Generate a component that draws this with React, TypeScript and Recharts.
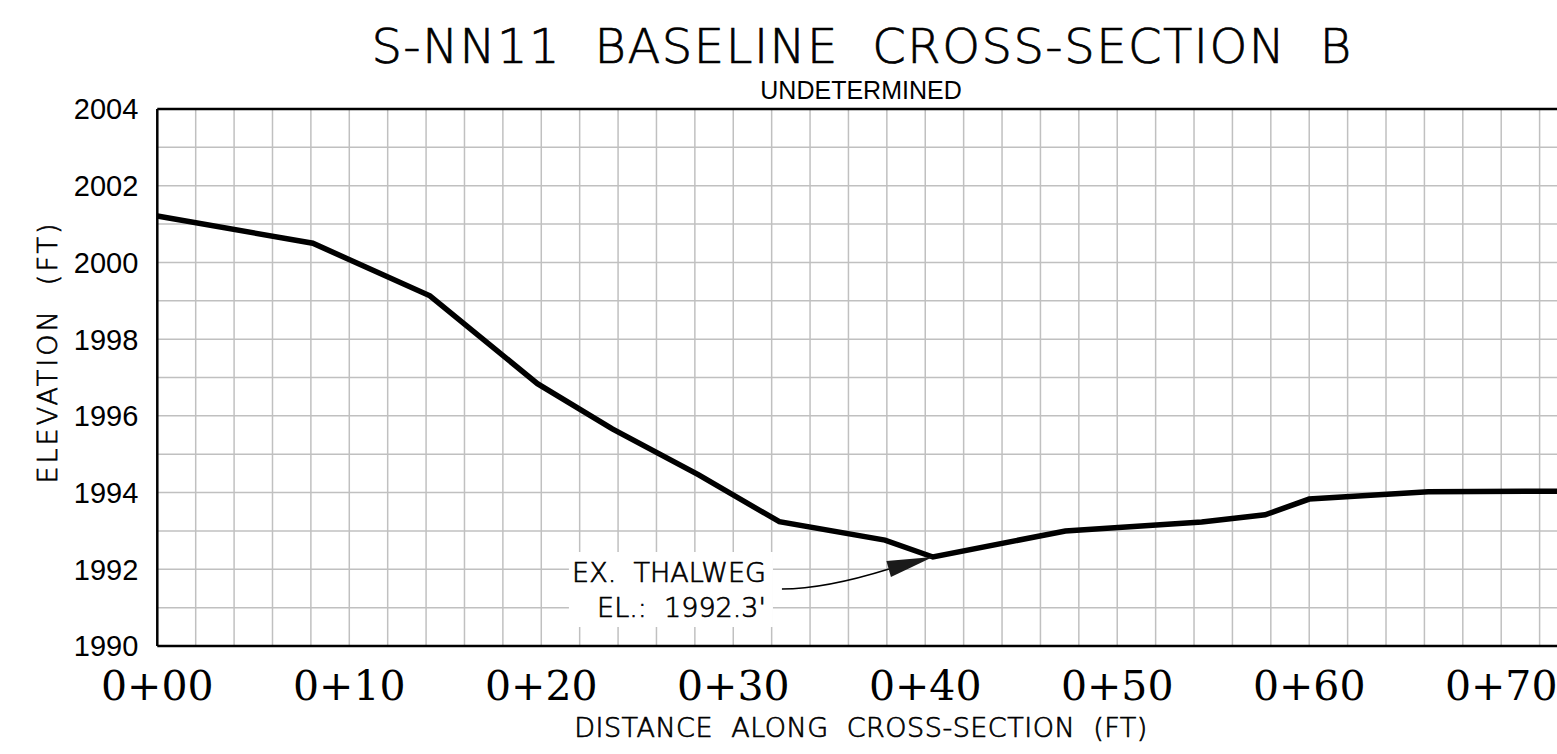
import {
  LineChart,
  Line,
  XAxis,
  YAxis,
  CartesianGrid,
  ReferenceLine,
  ReferenceDot,
} from "recharts";

// surveyed ground profile (station in ft, elevation in ft)
const stations = [0, 8.1, 14.2, 19.8, 23.7, 28.2, 32.4, 37.9, 40.4, 47.3, 54.4, 57.7, 60.0, 66.2, 74];
const elevations = [
  2001.21, 2000.5, 1999.13, 1996.84, 1995.66, 1994.46, 1993.24, 1992.76, 1992.32, 1993.0, 1993.23,
  1993.42, 1993.83, 1994.02, 1994.04,
];

// grid every 2 ft across, 1 ft up; labels only on some of them
const stationTicks = [
  0, 2, 4, 6, 8, 10, 12, 14, 16, 18, 20, 22, 24, 26, 28, 30, 32, 34, 36, 38, 40, 42, 44, 46, 48, 50,
  52, 54, 56, 58, 60, 62, 64, 66, 68, 70, 72, 74,
];
const stationLabels = [0, 10, 20, 30, 40, 50, 60, 70];
const elevationTicks = [
  1990, 1991, 1992, 1993, 1994, 1995, 1996, 1997, 1998, 1999, 2000, 2001, 2002, 2003, 2004,
];
const elevationLabels = [1990, 1992, 1994, 1996, 1998, 2000, 2002, 2004];

const thalwegStation = 40.4;
const thalwegElevation = 1992.32;
const thalwegText = ["EX.  THALWEG", "EL.:  1992.3'"];

const TITLE = "S-NN11  BASELINE  CROSS-SECTION  B";
const SUBTITLE = "UNDETERMINED";
const X_TITLE = "DISTANCE  ALONG  CROSS-SECTION  (FT)";
const Y_TITLE = "ELEVATION  (FT)";

const CAD_FONT = "'DejaVu Sans', sans-serif";
// thin CAD-ish lettering: extra-light face with a hairline stroke to darken it
const cadText = {
  fontFamily: CAD_FONT,
  fontWeight: 200,
  fill: "#000",
  stroke: "#000",
  strokeWidth: 0.7,
  style: { whiteSpace: "pre" as const },
};

const profile = stations.map((station, i) => ({ station, elevation: elevations[i] }));

const formatStation = (v: number) => `0+${String(v).padStart(2, "0")}`;

function StationTick({ x, y, payload }: any) {
  if (!stationLabels.includes(payload.value)) return <g />;
  return (
    <text
      x={x}
      y={y + 54}
      textAnchor="middle"
      fontFamily="'DejaVu Serif', serif"
      fontSize={41}
      fill="#000"
    >
      {formatStation(payload.value)}
    </text>
  );
}

function ElevationTick({ x, y, payload }: any) {
  if (!elevationLabels.includes(payload.value)) return <g />;
  return (
    <text
      x={x}
      y={y}
      dy="0.36em"
      textAnchor="end"
      fontFamily="'Liberation Sans', Arial, sans-serif"
      fontSize={29}
      fill="#000"
    >
      {payload.value}
    </text>
  );
}

// callout box + arrow pointing at the thalweg point
function ThalwegCallout({ cx, cy }: any) {
  return (
    <g>
      <rect x={cx - 364} y={cy - 5} width={204} height={75} fill="#fff" />
      {thalwegText.map((t, i) => (
        <text key={t} x={cx - 167} y={cy + 25 + i * 35} textAnchor="end" fontSize={27} {...cadText}>
          {t}
        </text>
      ))}
      <path
        d={`M${cx - 151},${cy + 32} Q${cx - 108},${cy + 32} ${cx - 44},${cy + 12}`}
        stroke="#000"
        strokeWidth={1.5}
        fill="none"
      />
      <path d={`M${cx},${cy} L${cx - 46.5},${cy + 4} L${cx - 42},${cy + 20} Z`} fill="#1a1a1a" />
    </g>
  );
}

export default function App() {
  return (
    <div
      style={{
        position: "absolute",
        left: 0,
        top: 0,
        width: 1557,
        height: 754,
        overflow: "hidden",
        background: "#fff",
      }}
    >
      <LineChart
        width={1590}
        height={754}
        data={profile}
        margin={{ top: 109, right: 12, bottom: 48, left: 0 }}
      >
        <CartesianGrid stroke="#c0c0c0" strokeWidth={1.5} />
        <XAxis
          dataKey="station"
          type="number"
          domain={[0, 74]}
          ticks={stationTicks}
          interval={0}
          height={60}
          tickLine={false}
          tickSize={0}
          tickMargin={0}
          tick={<StationTick />}
          axisLine={{ stroke: "#000", strokeWidth: 2.5 }}
        />
        <YAxis
          type="number"
          domain={[1990, 2004]}
          ticks={elevationTicks}
          interval={0}
          width={157.3}
          tickLine={false}
          tickSize={0}
          tickMargin={19}
          tick={<ElevationTick />}
          axisLine={{ stroke: "#000", strokeWidth: 2.5 }}
        />
        <ReferenceLine y={2004} stroke="#000" strokeWidth={2.5} />
        <Line
          dataKey="elevation"
          type="linear"
          stroke="#000"
          strokeWidth={5.5}
          dot={false}
          isAnimationActive={false}
        />
        <ReferenceDot
          x={thalwegStation}
          y={thalwegElevation}
          r={0}
          shape={(props: any) => <ThalwegCallout {...props} />}
        />
      </LineChart>
      <svg
        width={1557}
        height={754}
        style={{ position: "absolute", left: 0, top: 0, pointerEvents: "none" }}
      >
        <text x={862} y={63} textAnchor="middle" fontSize={48} letterSpacing={1.5} {...cadText}>
          {TITLE}
        </text>
        <text
          x={861}
          y={99}
          textAnchor="middle"
          fontFamily="'Liberation Sans', Arial, sans-serif"
          fontSize={25}
        >
          {SUBTITLE}
        </text>
        <text x={861} y={737} textAnchor="middle" fontSize={27} letterSpacing={0.5} {...cadText}>
          {X_TITLE}
        </text>
        <text
          transform="translate(57, 352) rotate(-90)"
          textAnchor="middle"
          fontSize={27}
          letterSpacing={3}
          {...cadText}
        >
          {Y_TITLE}
        </text>
      </svg>
    </div>
  );
}
